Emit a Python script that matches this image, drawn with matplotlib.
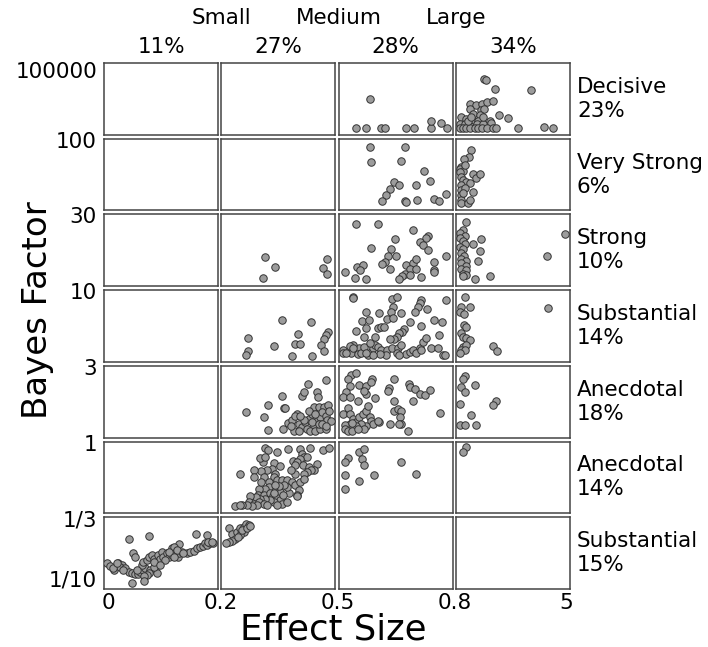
import matplotlib
matplotlib.use("Agg")
import matplotlib.pyplot as plt
import numpy as np

# ---------------- data ----------------
effect_edges = [0.0, 0.2, 0.5, 0.8, 5.0]
effect_tick_labels = ["0", "0.2", "0.5", "0.8", "5"]
effect_names = ["Small", "Medium", "Large"]
effect_pcts = ["11%", "27%", "28%", "34%"]

bf_edges = [100000, 100, 30, 10, 3, 1, 1/3, 1/10]   # top to bottom
bf_tick_labels = ["100000", "100", "30", "10", "3", "1", "1/3", "1/10"]
row_names = ["Decisive", "Very Strong", "Strong", "Substantial",
             "Anecdotal", "Anecdotal", "Substantial"]
row_pcts = ["23%", "6%", "10%", "14%", "18%", "14%", "15%"]

# Decisive (BF 100 - 100000)
decisive_d = [0.582, 0.545, 0.573, 0.612, 0.621, 0.676, 0.697, 0.742, 0.742, 0.770, 0.785,
              1.844, 1.893, 2.237, 3.563, 1.316, 1.537, 1.746, 1.930, 2.175, 1.709, 1.844,
              1.340, 1.009, 1.439, 1.684, 1.168, 1.439, 1.623, 2.053, 2.384, 2.728, 0.947,
              1.132, 1.316, 1.561, 1.782, 2.077, 0.947, 1.070, 1.193, 1.316, 1.500, 1.623,
              1.746, 1.930, 2.175, 2.274, 3.072, 4.054, 4.361, 1.254, 1.377, 1.807]
decisive_bf = [49350, 9200, 9200, 9200, 9200, 9200, 9200, 9200, 18800, 16100, 9200,
               78000, 76700, 63900, 62100, 42530, 41160, 42530, 45720, 47090, 34770, 36600,
               35680, 24280, 28840, 27470, 22000, 19720, 19720, 19720, 27930, 22910, 15160,
               15160, 12870, 15160, 15160, 16520, 9220, 9220, 9220, 9220, 9220, 9220,
               9220, 9220, 9220, 9220, 9220, 11500, 9220, 19720, 24280, 24280]

# Very strong (BF 30 - 100)
vstrong_d = [0.583, 0.675, 0.586, 0.665, 0.724, 0.645, 0.660, 0.739, 0.704, 0.634, 0.625,
             0.614, 0.674, 0.676, 0.707, 0.751, 0.763, 0.783,
             1.377, 1.291, 1.107, 1.009, 0.972, 1.070, 1.132, 0.947, 1.009, 1.070, 1.193,
             1.316, 1.414, 1.537, 1.684, 1.009, 1.009, 1.009, 1.009, 1.009, 1.254, 1.340,
             1.439, 1.132, 1.070]
vstrong_bf = [91.7, 91.7, 77.3, 77.9, 68.4, 58.1, 54.9, 58.8, 54.9, 50.8, 45.3,
              38.9, 39.6, 38.0, 40.5, 41.5, 38.9, 46.3,
              88.5, 82.1, 80.5, 72.5, 70.9, 68.4, 74.1, 67.7, 62.9, 59.7, 58.1,
              56.5, 65.2, 61.3, 65.2, 54.9, 50.1, 45.3, 40.5, 37.4, 37.4, 40.5,
              48.5, 51.7, 46.9]

# Strong (BF 10 - 30)
strong_d = [0.314, 0.342, 0.310, 0.478, 0.467, 0.478,
            0.546, 0.603, 0.696, 0.735, 0.729, 0.713, 0.722, 0.735, 0.649, 0.586, 0.639,
            0.630, 0.652, 0.621, 0.615, 0.634, 0.548, 0.564, 0.557, 0.516, 0.542, 0.571,
            0.676, 0.696, 0.703, 0.687, 0.703, 0.674, 0.668, 0.660, 0.687, 0.717, 0.751,
            0.751, 0.751, 0.783,
            1.168, 1.070, 0.972, 1.132, 0.947, 1.046, 1.132, 0.972, 1.070, 1.009, 1.095,
            1.009, 1.193, 1.009, 1.168, 1.009, 1.168, 1.046, 1.168, 1.070, 1.439, 1.721,
            1.684, 1.623, 1.500, 2.053, 4.140, 4.828]
strong_bf = [18.13, 15.39, 12.37, 17.58, 14.93, 13.29,
             27.44, 27.44, 25.61, 23.97, 23.33, 22.42, 21.50, 20.13, 23.06, 20.77, 20.32,
             18.49, 18.49, 16.66, 16.30, 14.84, 15.39, 16.03, 14.47, 13.93, 12.37, 11.92,
             15.84, 16.48, 17.58, 14.84, 14.84, 13.29, 12.83, 12.10, 13.01, 12.65, 16.66,
             14.38, 14.00, 18.31,
             27.90, 25.61, 24.88, 23.97, 23.33, 22.69, 21.69, 21.05, 20.32, 19.22, 18.31,
             17.58, 16.94, 16.48, 15.75, 14.66, 14.47, 13.29, 13.10, 12.83, 21.69, 23.06,
             19.68, 16.94, 12.10, 12.83, 18.49, 24.43]

# Substantial for H1 (BF 3 - 10)
subst_d = [0.360, 0.436, 0.270, 0.402, 0.270, 0.265, 0.338, 0.393, 0.406, 0.386, 0.439,
           0.481, 0.476, 0.469, 0.462, 0.471,
           0.538, 0.539, 0.641, 0.654, 0.717, 0.713, 0.709, 0.700, 0.783, 0.733, 0.643,
           0.639, 0.627, 0.606, 0.573, 0.562, 0.580, 0.603, 0.612, 0.619, 0.573, 0.546,
           0.643, 0.665, 0.687, 0.717, 0.751, 0.772, 0.671, 0.668, 0.660, 0.654, 0.647,
           0.634, 0.597, 0.568, 0.555, 0.538, 0.529, 0.511, 0.511, 0.533, 0.551, 0.560,
           0.568, 0.577, 0.586, 0.590, 0.595, 0.603, 0.612, 0.627, 0.641, 0.656, 0.665,
           0.678, 0.687, 0.696, 0.713, 0.722, 0.731, 0.744, 0.761, 0.764, 0.775, 0.779,
           0.703, 0.654, 0.625, 0.608, 0.590, 0.573, 0.520, 0.538, 0.583, 0.717, 0.660,
           1.156, 1.009, 1.316, 0.972, 1.095, 1.107, 1.193, 1.009, 1.046, 1.168, 1.340,
           1.070, 1.193, 1.009, 1.132, 0.947, 2.175, 2.323, 4.202]
subst_bf = [7.08, 6.86, 5.30, 5.69, 4.10, 3.68, 4.59, 4.75, 4.75, 3.62, 3.62,
            5.95, 5.62, 5.20, 4.65, 4.07,
            9.35, 9.19, 9.12, 9.29, 9.03, 8.70, 8.38, 7.89, 9.03, 8.12, 8.38,
            7.89, 7.15, 7.73, 7.83, 7.02, 7.08, 6.34, 6.43, 6.43, 6.27, 6.01,
            7.31, 7.73, 6.92, 6.53, 7.08, 6.92, 6.21, 5.95, 5.79, 5.46, 5.24,
            5.24, 5.40, 5.40, 4.39, 4.65, 4.56, 4.17, 3.84, 3.84, 3.75, 3.91,
            4.49, 3.68, 4.00, 4.33, 4.65, 4.49, 4.17, 4.17, 4.33, 4.39, 4.65,
            3.75, 4.00, 4.17, 4.39, 4.98, 5.30, 4.33, 4.33, 5.62, 3.68, 3.68,
            3.84, 3.84, 3.68, 3.75, 3.68, 3.84, 3.84, 4.33, 4.81, 4.17, 3.68,
            9.35, 8.38, 8.38, 7.89, 7.63, 6.60, 6.43, 5.79, 5.46, 5.30, 5.14,
            4.49, 4.65, 4.17, 4.17, 3.84, 4.59, 4.07, 8.28]

# Anecdotal for H1 (BF 1 - 3)
anec1_d = [0.265, 0.311, 0.323, 0.360, 0.364, 0.367, 0.322, 0.362, 0.375, 0.386, 0.399,
           0.412, 0.417, 0.427, 0.452, 0.453, 0.475, 0.443, 0.456, 0.469, 0.480, 0.403,
           0.412, 0.421, 0.430, 0.439, 0.443, 0.452, 0.460, 0.465, 0.474, 0.478, 0.483,
           0.425, 0.434, 0.447, 0.460, 0.476, 0.392, 0.403, 0.417, 0.439, 0.456, 0.395,
           0.408, 0.430, 0.447, 0.465, 0.487, 0.382, 0.474,
           0.533, 0.545, 0.525, 0.531, 0.553, 0.573, 0.589, 0.584, 0.520, 0.513, 0.529,
           0.551, 0.573, 0.566, 0.595, 0.647, 0.632, 0.630, 0.685, 0.687, 0.700, 0.713,
           0.726, 0.741, 0.696, 0.645, 0.525, 0.513, 0.529, 0.538, 0.546, 0.555, 0.564,
           0.573, 0.577, 0.582, 0.586, 0.590, 0.573, 0.560, 0.545, 0.529, 0.516, 0.516,
           0.525, 0.536, 0.568, 0.606, 0.603, 0.634, 0.647, 0.656, 0.665, 0.662, 0.665,
           0.682, 0.767, 0.660, 0.536, 0.551,
           1.132, 1.070, 1.500, 1.009, 1.132, 0.972, 2.274, 2.175, 1.377, 0.947, 1.132, 1.537]
anec1_bf = [1.70, 1.58, 1.91, 2.15, 1.82, 1.82, 1.22, 1.24, 1.40, 1.49, 1.66,
            2.17, 2.26, 2.49, 2.26, 2.12, 2.61, 1.84, 1.84, 1.84, 1.91, 1.38,
            1.29, 1.43, 1.52, 1.66, 1.33, 1.47, 1.56, 1.70, 1.61, 1.49, 1.75,
            1.24, 1.19, 1.19, 1.24, 1.24, 1.19, 1.19, 1.49, 1.43, 1.38, 1.61,
            1.61, 1.75, 1.66, 1.38, 1.47, 1.33, 1.33,
            2.75, 2.79, 2.63, 2.44, 2.47, 2.44, 2.63, 2.56, 2.26, 2.12, 2.12,
            2.03, 2.21, 2.31, 2.09, 2.63, 2.38, 2.31, 2.49, 2.40, 2.35, 2.21,
            2.19, 2.32, 2.03, 2.01, 1.82, 1.66, 1.66, 1.52, 1.43, 1.56, 1.66,
            1.75, 1.89, 1.58, 1.47, 1.38, 1.33, 1.38, 1.33, 1.38, 1.36, 1.24,
            1.19, 1.18, 1.24, 1.43, 1.47, 1.38, 1.75, 1.80, 1.73, 1.56, 1.38,
            1.19, 1.69, 1.38, 1.40, 1.24,
            2.72, 2.63, 2.47, 2.40, 2.26, 1.95, 2.03, 1.91, 1.63, 1.35, 1.35, 1.35]

# Anecdotal for H0 (BF 1/3 - 1)
anec0_d = [0.314, 0.322, 0.346, 0.375, 0.408, 0.432, 0.467, 0.482, 0.412, 0.418, 0.425,
           0.406, 0.389, 0.399, 0.393, 0.415, 0.430, 0.452, 0.443, 0.436, 0.425, 0.417,
           0.395, 0.383, 0.310, 0.301, 0.316, 0.338, 0.353, 0.333, 0.320, 0.304, 0.287,
           0.285, 0.250, 0.311, 0.342, 0.338, 0.325, 0.346, 0.360, 0.373, 0.386, 0.395,
           0.406, 0.418, 0.403, 0.399, 0.377, 0.355, 0.338, 0.325, 0.316, 0.298, 0.296,
           0.311, 0.327, 0.336, 0.346, 0.355, 0.360, 0.338, 0.329, 0.316, 0.303, 0.292,
           0.276, 0.272, 0.285, 0.298, 0.311, 0.320, 0.294, 0.281, 0.268, 0.254, 0.237,
           0.248, 0.346, 0.373, 0.399, 0.373, 0.364, 0.351, 0.342, 0.362, 0.338, 0.304,
           0.555, 0.567, 0.525, 0.518, 0.562, 0.566, 0.665, 0.704, 0.592, 0.518, 0.555,
           0.516, 1.168, 1.070]
anec0_bf = [0.938, 0.917, 0.901, 0.926, 0.932, 0.938, 0.917, 0.938, 0.886, 0.855, 0.855,
            0.839, 0.815, 0.809, 0.784, 0.784, 0.762, 0.793, 0.731, 0.731, 0.716, 0.701,
            0.701, 0.731, 0.809, 0.846, 0.855, 0.802, 0.772, 0.747, 0.731, 0.722, 0.738,
            0.670, 0.701, 0.670, 0.701, 0.670, 0.623, 0.639, 0.639, 0.639, 0.623, 0.593,
            0.623, 0.654, 0.546, 0.500, 0.525, 0.531, 0.562, 0.577, 0.555, 0.555, 0.506,
            0.506, 0.525, 0.494, 0.475, 0.454, 0.423, 0.438, 0.454, 0.469, 0.469, 0.485,
            0.491, 0.438, 0.423, 0.438, 0.423, 0.407, 0.407, 0.401, 0.407, 0.407, 0.401,
            0.414, 0.407, 0.438, 0.494, 0.577, 0.593, 0.586, 0.599, 0.500, 0.525, 0.623,
            0.907, 0.932, 0.846, 0.809, 0.839, 0.784, 0.809, 0.701, 0.691, 0.685, 0.633,
            0.555, 0.947, 0.907]

# Substantial for H0 (BF 1/10 - 1/3)
subst0_d = [0.044, 0.078, 0.161, 0.180, 0.132, 0.051, 0.054, 0.006, 0.011, 0.018, 0.025,
            0.031, 0.028, 0.037, 0.043, 0.049, 0.054, 0.060, 0.063, 0.069, 0.072, 0.066,
            0.068, 0.075, 0.078, 0.084, 0.087, 0.090, 0.090, 0.092, 0.081, 0.078, 0.075,
            0.070, 0.095, 0.098, 0.101, 0.104, 0.110, 0.113, 0.116, 0.119, 0.122, 0.125,
            0.129, 0.132, 0.136, 0.145, 0.151, 0.157, 0.163, 0.168, 0.174, 0.177, 0.181,
            0.186, 0.191, 0.183, 0.189, 0.049, 0.070, 0.016, 0.022, 0.034, 0.057, 0.087,
            0.107, 0.119, 0.128, 0.139, 0.087, 0.098, 0.113, 0.122,
            0.219, 0.228, 0.241, 0.250, 0.259, 0.266, 0.272, 0.261, 0.250, 0.237, 0.228,
            0.219, 0.213, 0.243, 0.254, 0.268, 0.276]
subst0_bf = [0.261, 0.272, 0.278, 0.275, 0.246, 0.216, 0.203, 0.185, 0.175, 0.162, 0.183,
             0.178, 0.170, 0.167, 0.156, 0.151, 0.149, 0.149, 0.156, 0.162, 0.167, 0.178,
             0.189, 0.194, 0.205, 0.210, 0.199, 0.183, 0.162, 0.151, 0.162, 0.151, 0.145,
             0.142, 0.210, 0.199, 0.221, 0.205, 0.216, 0.205, 0.221, 0.232, 0.237, 0.216,
             0.205, 0.216, 0.221, 0.216, 0.221, 0.224, 0.232, 0.237, 0.239, 0.248, 0.243,
             0.248, 0.248, 0.253, 0.253, 0.121, 0.126, 0.167, 0.183, 0.162, 0.162, 0.172,
             0.194, 0.210, 0.226, 0.216, 0.189, 0.178, 0.221, 0.205,
             0.297, 0.280, 0.286, 0.297, 0.302, 0.311, 0.307, 0.286, 0.275, 0.264, 0.257,
             0.253, 0.248, 0.270, 0.291, 0.297, 0.304]

rows_d = [decisive_d, vstrong_d, strong_d, subst_d, anec1_d, anec0_d, subst0_d]
rows_bf = [decisive_bf, vstrong_bf, strong_bf, subst_bf, anec1_bf, anec0_bf, subst0_bf]

# ---------------- figure ----------------
W, H = 708, 647
fig = plt.figure(figsize=(W / 100, H / 100), dpi=100)

left_px, right_px, top_px, bottom_px = 104, 570, 63, 589
ncol, nrow = 4, 7
gs = fig.add_gridspec(nrow, ncol,
                      left=left_px / W, right=right_px / W,
                      top=1 - top_px / H, bottom=1 - bottom_px / H,
                      wspace=0.027, hspace=0.055)

FS = 15.5
axes = [[None] * ncol for _ in range(nrow)]
for r in range(nrow):
    ylo, yhi = bf_edges[r + 1], bf_edges[r]
    d = np.array(rows_d[r])
    bf = np.array(rows_bf[r])
    for c in range(ncol):
        xlo, xhi = effect_edges[c], effect_edges[c + 1]
        ax = fig.add_subplot(gs[r, c])
        axes[r][c] = ax
        if c < ncol - 1:
            m = (d >= xlo) & (d < xhi)
        else:
            m = (d >= xlo) & (d <= xhi)
        ax.scatter(d[m], bf[m], s=29, c="#9c9c9c", edgecolors="#333333",
                   linewidths=0.7, zorder=3, clip_on=True)
        ax.set_xlim(xlo, xhi)
        ax.set_ylim(ylo, yhi)
        ax.set_xticks([])
        ax.set_yticks([])
        for sp in ax.spines.values():
            sp.set_color("#444444")
            sp.set_linewidth(1.1)

def px2fy(py):
    return 1 - py / H

# y tick labels at row boundaries
for i, lab in enumerate(bf_tick_labels):
    if i == 0:
        y = axes[0][0].get_position().y1
        fig.text(97 / W, y - 9 / H, lab, ha="right", va="center", fontsize=FS)
    elif i == nrow:
        y = axes[nrow - 1][0].get_position().y0
        fig.text(97 / W, y + 9 / H, lab, ha="right", va="center", fontsize=FS)
    else:
        y = axes[i][0].get_position().y1
        fig.text(97 / W, y - 3 / H, lab, ha="right", va="center", fontsize=FS)

# x tick labels at column boundaries
for i, lab in enumerate(effect_tick_labels):
    if i == 0:
        x = axes[-1][0].get_position().x0
        fig.text(x + 4 / W, px2fy(603), lab, ha="center", va="center", fontsize=FS)
    elif i == ncol:
        x = axes[-1][-1].get_position().x1
        fig.text(x - 4 / W, px2fy(603), lab, ha="center", va="center", fontsize=FS)
    else:
        x = axes[-1][i].get_position().x0
        fig.text(x - 1 / W, px2fy(603), lab, ha="center", va="center", fontsize=FS)

# top: effect-size category names at boundaries, percentages at column centres
for i, lab in enumerate(effect_names):
    x = axes[0][i + 1].get_position().x0
    fig.text(x, px2fy(18), lab, ha="center", va="center", fontsize=FS)
for c, lab in enumerate(effect_pcts):
    p = axes[0][c].get_position()
    fig.text((p.x0 + p.x1) / 2, px2fy(47), lab, ha="center", va="center", fontsize=FS)

# right: BF category names
for r in range(nrow):
    p = axes[r][-1].get_position()
    fig.text(577 / W, (p.y0 + p.y1) / 2, row_names[r] + "\n" + row_pcts[r],
             ha="left", va="center", fontsize=FS, linespacing=1.25)

fig.text(333 / W, px2fy(629), "Effect Size", ha="center", va="center", fontsize=25.5)
fig.text(38 / W, px2fy(310), "Bayes Factor", ha="center", va="center",
         rotation=90, fontsize=24.5)

fig.savefig("out.png", dpi=100)
